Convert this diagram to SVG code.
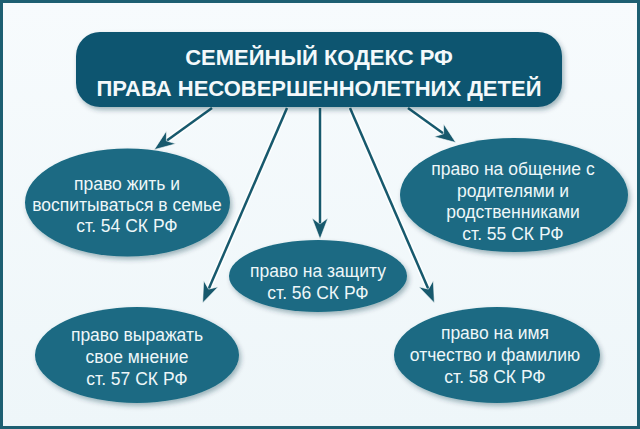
<svg xmlns="http://www.w3.org/2000/svg" width="640" height="429" viewBox="0 0 640 429">
  <defs>
    <style>
      .node { fill: #1a6b83; filter: url(#shadow); }
      .title-box { fill: #0f5570; filter: url(#shadow); }
      .title { font-family: "Liberation Sans", Arial, sans-serif; font-weight: bold; font-size: 22px; fill: #f4f9fb; text-anchor: middle; }
      .label { font-family: "Liberation Sans", Arial, sans-serif; font-size: 17.5px; fill: #eef7f9; text-anchor: middle; }
      .halo { stroke: #ffffff; stroke-width: 5.5; stroke-opacity: 0.9; fill: none; }
      .edge { stroke: #17596d; stroke-width: 2.5; fill: none; marker-end: url(#arrow); }
    </style>
    <linearGradient id="bg" x1="0" y1="0" x2="0" y2="1">
      <stop offset="0" stop-color="#f7fbfd"/>
      <stop offset="1" stop-color="#eef6f9"/>
    </linearGradient>
    <filter id="shadow" x="-10%" y="-10%" width="125%" height="130%">
      <feDropShadow dx="2" dy="3" stdDeviation="2.5" flood-color="#0a3442" flood-opacity="0.35"/>
    </filter>
    <marker id="arrow" viewBox="0 -9 24 18" refX="10" refY="0" markerWidth="24" markerHeight="18" markerUnits="userSpaceOnUse" orient="auto">
      <path d="M 21 0 L 0 -8 L 6 0 L 0 8 Z" fill="#17596d" stroke="#ffffff" stroke-width="0.8" stroke-opacity="0.7"/>
    </marker>
  </defs>

  <rect x="0" y="0" width="640" height="429" fill="url(#bg)"/>
  <rect x="1.5" y="1.5" width="637" height="426" fill="none" stroke="#1d5f72" stroke-width="3"/>

  <g id="connectors">
    <path class="halo" d="M 212 108 L 163.1 143.2"/>
    <path class="halo" d="M 287 108 L 207 292.8"/>
    <path class="halo" d="M 320 108 L 320 228"/>
    <path class="halo" d="M 350 108 L 430 292.8"/>
    <path class="halo" d="M 408 108 L 446.9 136.1"/>
    <path class="edge" d="M 212 108 L 163.1 143.2"/>
    <path class="edge" d="M 287 108 L 207 292.8"/>
    <path class="edge" d="M 320 108 L 320 228"/>
    <path class="edge" d="M 350 108 L 430 292.8"/>
    <path class="edge" d="M 408 108 L 446.9 136.1"/>
  </g>

  <g id="title">
    <rect class="title-box" x="76" y="32" width="486" height="75" rx="24" ry="24"/>
    <text class="title" x="319" y="65">СЕМЕЙНЫЙ КОДЕКС РФ</text>
    <text class="title" x="319" y="96">ПРАВА НЕСОВЕРШЕННОЛЕТНИХ ДЕТЕЙ</text>
  </g>

  <g id="node-54">
    <ellipse class="node" cx="127.5" cy="202.5" rx="102.5" ry="54"/>
    <text class="label" x="127" y="190">право жить и</text>
    <text class="label" x="127" y="211">воспитываться в семье</text>
    <text class="label" x="127" y="232">ст. 54 СК РФ</text>
  </g>

  <g id="node-55">
    <ellipse class="node" cx="514" cy="195" rx="114" ry="57"/>
    <text class="label" x="513" y="175">право на общение с</text>
    <text class="label" x="513" y="196.5">родителями и</text>
    <text class="label" x="513" y="218">родственниками</text>
    <text class="label" x="513" y="239.5">ст. 55 СК РФ</text>
  </g>

  <g id="node-56">
    <ellipse class="node" cx="318" cy="276" rx="89" ry="36"/>
    <text class="label" x="318" y="277">право на защиту</text>
    <text class="label" x="318" y="299">ст. 56 СК РФ</text>
  </g>

  <g id="node-57">
    <ellipse class="node" cx="137" cy="355" rx="102" ry="48"/>
    <text class="label" x="137" y="341">право выражать</text>
    <text class="label" x="137" y="363">свое мнение</text>
    <text class="label" x="137" y="385">ст. 57 СК РФ</text>
  </g>

  <g id="node-58">
    <ellipse class="node" cx="497" cy="355" rx="103" ry="48"/>
    <text class="label" x="495" y="339">право на имя</text>
    <text class="label" x="495" y="361">отчество и фамилию</text>
    <text class="label" x="495" y="383">ст. 58 СК РФ</text>
  </g>
</svg>
